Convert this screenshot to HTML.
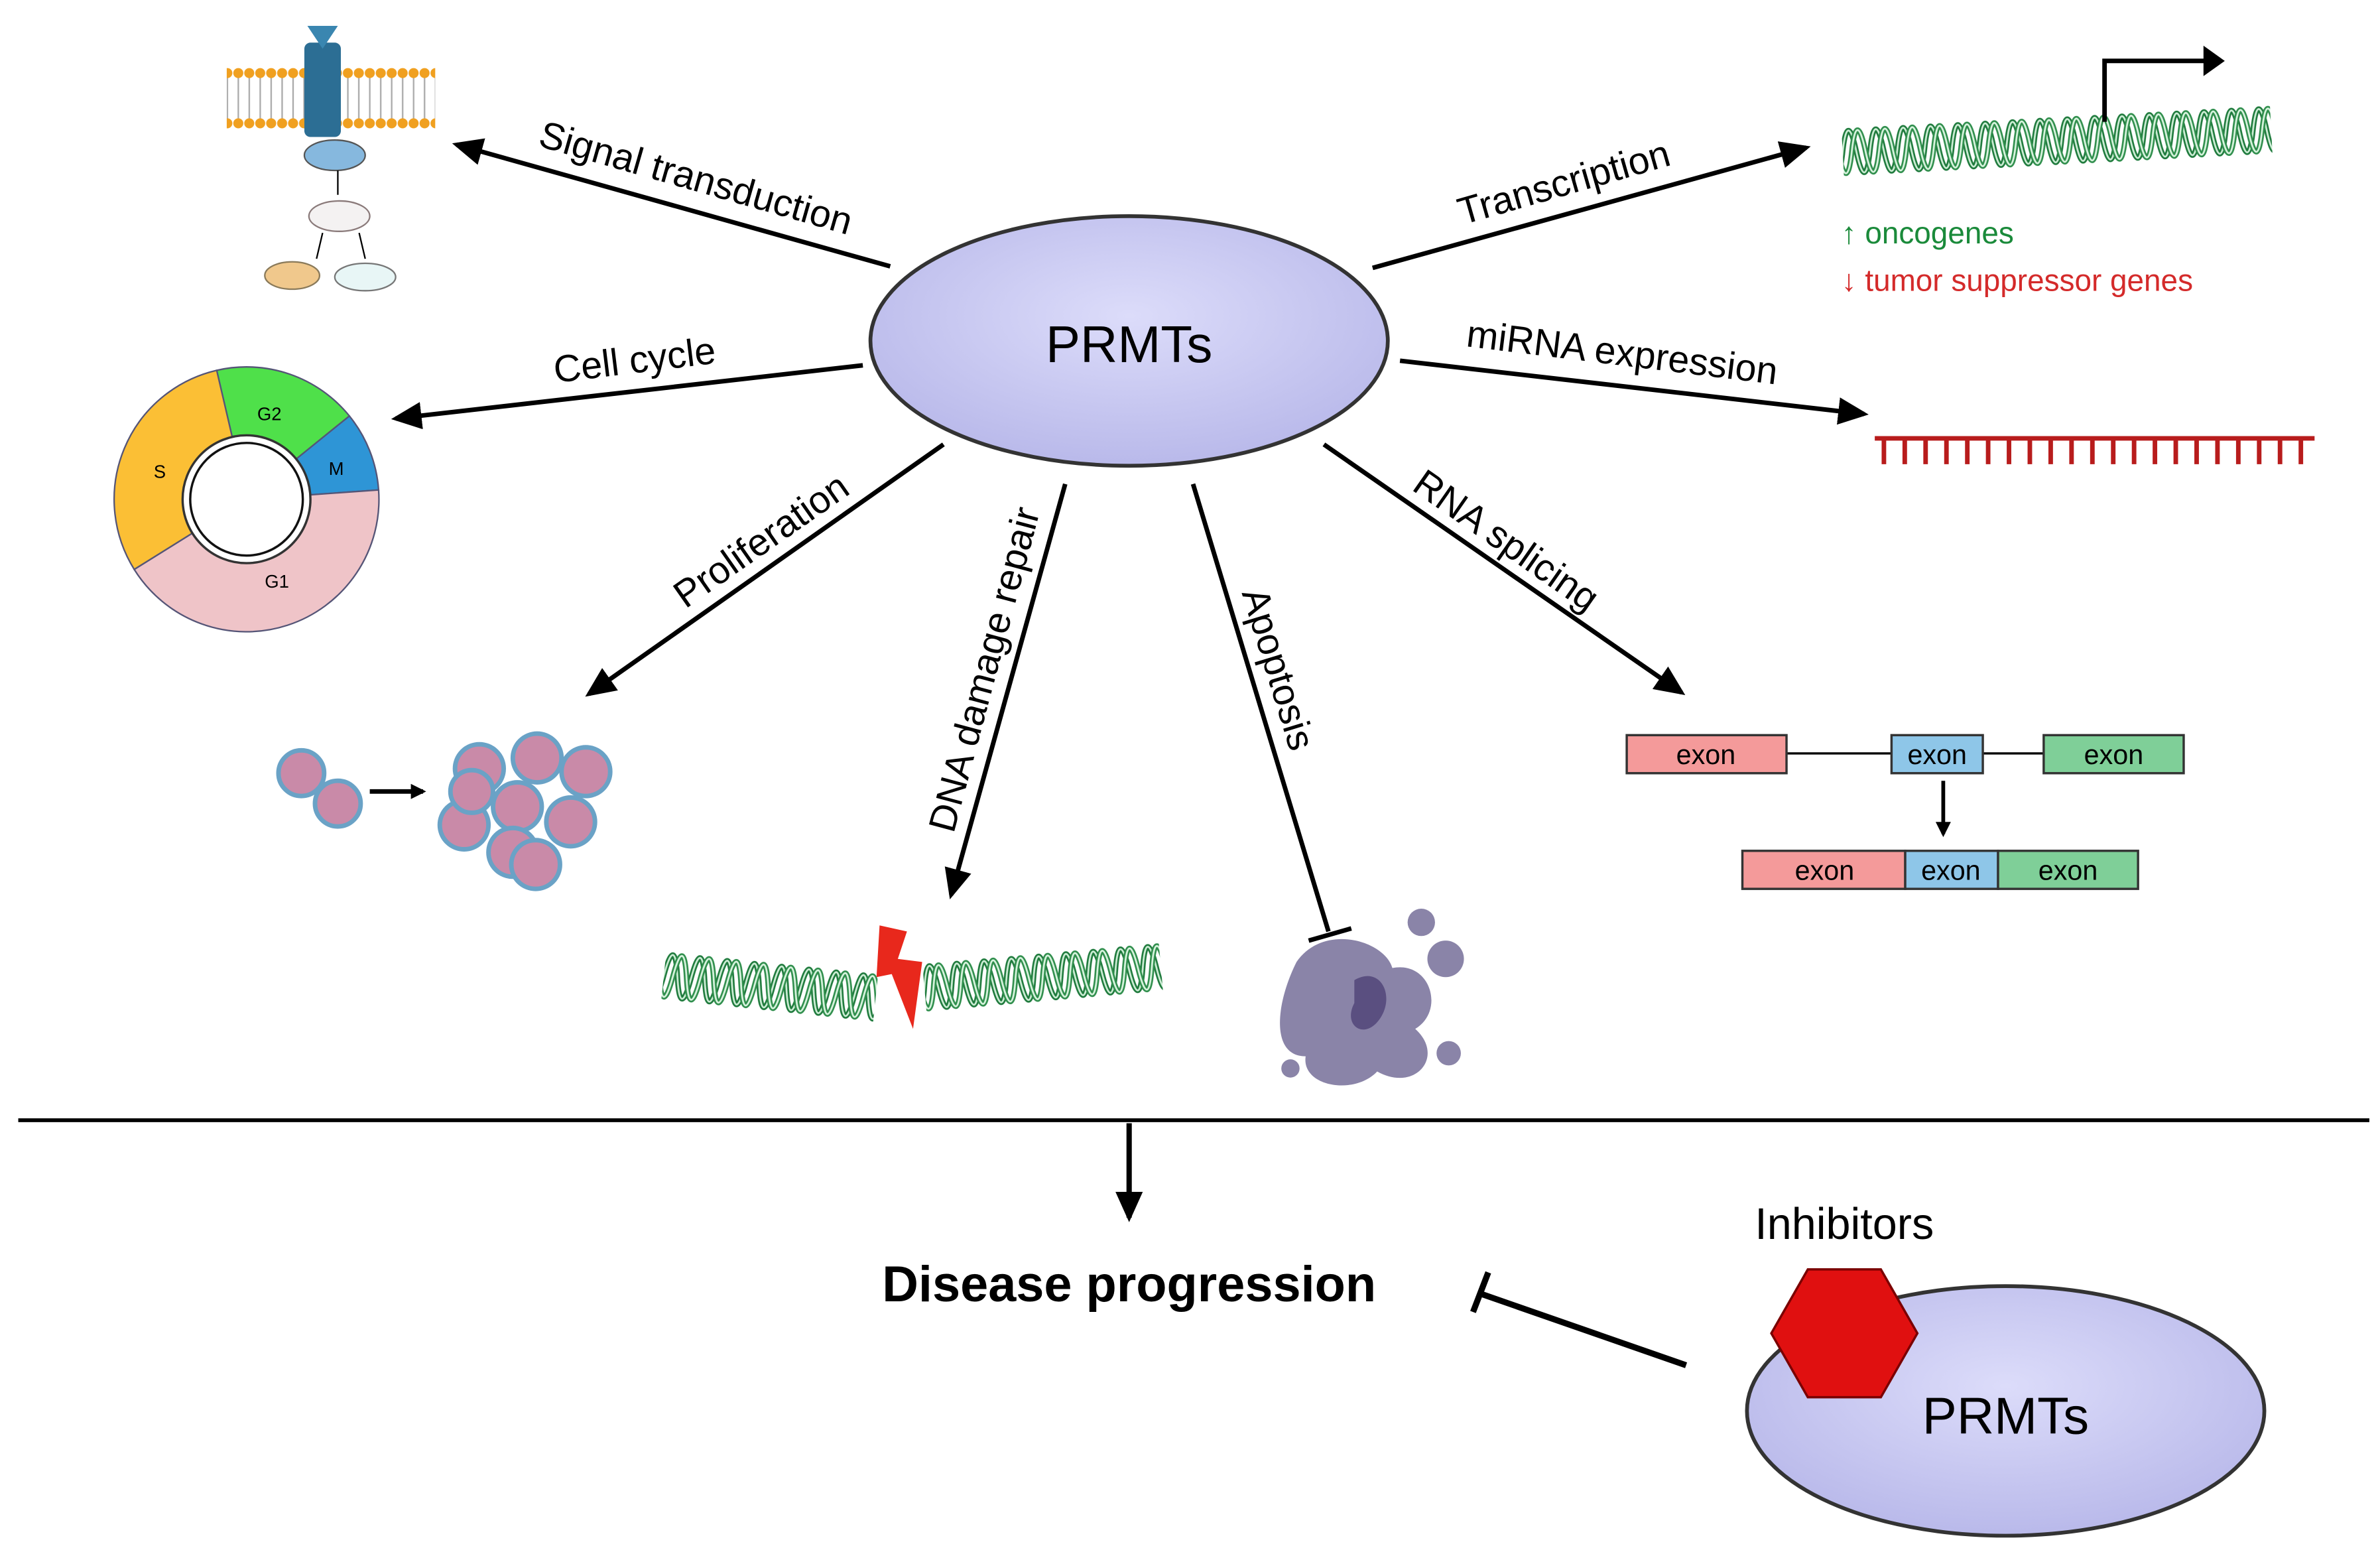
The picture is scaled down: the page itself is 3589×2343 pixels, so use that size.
<!DOCTYPE html>
<html><head><meta charset="utf-8"><style>
html,body{margin:0;padding:0;background:#fff;}
svg{display:block;}
text{font-family:"Liberation Sans","DejaVu Sans",sans-serif;}
</style></head><body>
<svg width="3589" height="2343" viewBox="0 0 1564 1021" xmlns="http://www.w3.org/2000/svg">
<defs>
<radialGradient id="eg" cx="50%" cy="40%" r="60%">
<stop offset="0" stop-color="#dcdcfa"/><stop offset="1" stop-color="#b9b9ea"/></radialGradient>
<marker id="ah" markerWidth="10" markerHeight="10" refX="8" refY="5" orient="auto" markerUnits="userSpaceOnUse" viewBox="0 0 10 10"><path d="M0,0 L10,5 L0,10 z" fill="#000"/></marker>
<marker id="ahb" markerWidth="20" markerHeight="20" refX="17" refY="10" orient="auto" markerUnits="userSpaceOnUse" viewBox="0 0 20 20"><path d="M0,1 L20,10 L0,19 z" fill="#000"/></marker>
<pattern id="hx" patternUnits="userSpaceOnUse" x="0" y="0" width="18" height="34">
<g fill="none">
<path d="M-18,17 Q-13.5,-11 -9,17 T0,17 T9,17 T18,17 T27,17" stroke="#1e7a3c" stroke-width="3.5"/>
<path d="M-18,17 Q-13.5,-11 -9,17 T0,17 T9,17 T18,17 T27,17" stroke="#cdeed5" stroke-width="1.2"/>
<path d="M-12,17 Q-7.5,-11 -3,17 T6,17 T15,17 T24,17 T33,17" stroke="#2f8e4c" stroke-width="3.5"/>
<path d="M-12,17 Q-7.5,-11 -3,17 T6,17 T15,17 T24,17 T33,17" stroke="#d8f4de" stroke-width="1.2"/>
</g></pattern>
<pattern id="mb" patternUnits="userSpaceOnUse" x="153" y="0" width="7.2" height="100">
<line x1="3.6" y1="50" x2="3.6" y2="78" stroke="#aaa" stroke-width="1"/>
<circle cx="3.6" cy="48" r="3.3" fill="#f0a020"/><circle cx="3.6" cy="81" r="3.3" fill="#f0a020"/>
</pattern>
</defs>

<ellipse cx="742" cy="224" rx="170" ry="82" fill="url(#eg)" stroke="#333" stroke-width="2.5"/>
<text x="742" y="238" font-size="34" text-anchor="middle">PRMTs</text>

<g fill="#8a84a8">
<path d="M852,632 C870,606 910,618 915,636 C940,631 950,664 930,676 C950,694 930,718 905,704 C890,720 855,714 858,694 C835,694 838,660 852,632 z"/>
<circle cx="934" cy="606" r="9"/><circle cx="950" cy="630" r="12"/><circle cx="952" cy="692" r="8"/><circle cx="848" cy="702" r="6"/>
<path d="M890,644 C907,634 917,654 907,669 C897,684 882,674 890,659 z" fill="#5a4f80"/>
</g>

<g stroke="#000" stroke-width="3" fill="none">
<line x1="585" y1="175" x2="300" y2="95" marker-end="url(#ahb)"/>
<line x1="902" y1="176" x2="1187" y2="97" marker-end="url(#ahb)"/>
<line x1="567" y1="240" x2="260" y2="275" marker-end="url(#ahb)"/>
<line x1="920" y1="237" x2="1225" y2="272" marker-end="url(#ahb)"/>
<line x1="620" y1="292" x2="387" y2="456" marker-end="url(#ahb)"/>
<line x1="700" y1="318" x2="625" y2="588" marker-end="url(#ahb)"/>
<line x1="784" y1="318" x2="873" y2="612"/>
<line x1="860" y1="618" x2="888" y2="610"/>
<line x1="870" y1="292" x2="1105" y2="455" marker-end="url(#ahb)"/>
</g>
<g font-size="25">
<text transform="translate(455,125) rotate(16)" text-anchor="middle">Signal transduction</text>
<text transform="translate(1030,128) rotate(-16)" text-anchor="middle">Transcription</text>
<text transform="translate(418,245) rotate(-7)" text-anchor="middle">Cell cycle</text>
<text transform="translate(1065,240) rotate(7)" text-anchor="middle">miRNA expression</text>
<text transform="translate(505,362) rotate(-35)" text-anchor="middle">Proliferation</text>
<text transform="translate(655,442) rotate(-75)" text-anchor="middle">DNA damage repair</text>
<text transform="translate(832,442) rotate(73)" text-anchor="middle">Apoptosis</text>
<text transform="translate(985,362) rotate(35)" text-anchor="middle">RNA splicing</text>
</g>

<rect x="0" y="0" width="282" height="34" fill="url(#hx)" transform="translate(1210,83) rotate(-3)"/>
<path d="M1383,80 V40 H1450" stroke="#000" stroke-width="3" fill="none"/>
<path d="M1448,30 L1462,40 L1448,50 z" fill="#000"/>
<text x="1210" y="160" font-size="20" fill="#1a8a3a">↑ oncogenes</text>
<text x="1210" y="191" font-size="20" fill="#d42a2a">↓ tumor suppressor genes</text>

<g stroke="#b81c1c" stroke-width="3"><line x1="1232" y1="288" x2="1521" y2="288"/>
<line x1="1238" y1="288" x2="1238" y2="305"/><line x1="1251.7" y1="288" x2="1251.7" y2="305"/><line x1="1265.4" y1="288" x2="1265.4" y2="305"/><line x1="1279.1" y1="288" x2="1279.1" y2="305"/><line x1="1292.8" y1="288" x2="1292.8" y2="305"/><line x1="1306.5" y1="288" x2="1306.5" y2="305"/><line x1="1320.2" y1="288" x2="1320.2" y2="305"/><line x1="1333.9" y1="288" x2="1333.9" y2="305"/><line x1="1347.6" y1="288" x2="1347.6" y2="305"/><line x1="1361.3" y1="288" x2="1361.3" y2="305"/><line x1="1375" y1="288" x2="1375" y2="305"/><line x1="1388.7" y1="288" x2="1388.7" y2="305"/><line x1="1402.4" y1="288" x2="1402.4" y2="305"/><line x1="1416.1" y1="288" x2="1416.1" y2="305"/><line x1="1429.8" y1="288" x2="1429.8" y2="305"/><line x1="1443.5" y1="288" x2="1443.5" y2="305"/><line x1="1457.2" y1="288" x2="1457.2" y2="305"/><line x1="1470.9" y1="288" x2="1470.9" y2="305"/><line x1="1484.6" y1="288" x2="1484.6" y2="305"/><line x1="1498.3" y1="288" x2="1498.3" y2="305"/><line x1="1512" y1="288" x2="1512" y2="305"/>
</g>

<g font-size="18" text-anchor="middle" stroke-width="1.5">
<line x1="1174" y1="495" x2="1243" y2="495" stroke="#000"/>
<line x1="1303" y1="495" x2="1343" y2="495" stroke="#000"/>
<rect x="1069" y="483" width="105" height="25" fill="#f49a9a" stroke="#333"/><text x="1121" y="502">exon</text>
<rect x="1243" y="483" width="60" height="25" fill="#8ec6e8" stroke="#333"/><text x="1273" y="502">exon</text>
<rect x="1343" y="483" width="92" height="25" fill="#7fcf98" stroke="#333"/><text x="1389" y="502">exon</text>
<rect x="1145" y="559" width="107" height="25" fill="#f49a9a" stroke="#333"/><text x="1199" y="578">exon</text>
<rect x="1252" y="559" width="61" height="25" fill="#8ec6e8" stroke="#333"/><text x="1282" y="578">exon</text>
<rect x="1313" y="559" width="92" height="25" fill="#7fcf98" stroke="#333"/><text x="1359" y="578">exon</text>
</g>
<line x1="1277" y1="513" x2="1277" y2="548" stroke="#000" stroke-width="2.5" marker-end="url(#ah)"/>

<g stroke="#557" stroke-width="1">
<path d="M142.4,243.3 A87,87 0 0 1 229.6,273.3 L194.6,301.6 A42,42 0 0 0 152.6,287.1 z" fill="#4fe04a"/>
<path d="M229.6,273.3 A87,87 0 0 1 248.8,321.9 L203.9,325.1 A42,42 0 0 0 194.6,301.6 z" fill="#2e95d6"/>
<path d="M248.8,321.9 A87,87 0 0 1 88.2,374.1 L126.4,350.3 A42,42 0 0 0 203.9,325.1 z" fill="#efc4c8"/>
<path d="M88.2,374.1 A87,87 0 0 1 142.4,243.3 L152.6,287.1 A42,42 0 0 0 126.4,350.3 z" fill="#fbbf35"/>
</g>
<circle cx="162" cy="328" r="42" fill="#fff" stroke="#333" stroke-width="1.5"/>
<circle cx="162" cy="328" r="37" fill="none" stroke="#111" stroke-width="1.5"/>
<g font-size="12" text-anchor="middle"><text x="177" y="276">G2</text><text x="221" y="312">M</text><text x="105" y="314">S</text><text x="182" y="386">G1</text></g>

<rect x="149" y="40" width="137" height="48" fill="url(#mb)"/>
<rect x="200" y="28" width="24" height="62" rx="4" fill="#2c6e94"/>
<path d="M202,17 L222,17 L212,32 z" fill="#3a86b0"/>
<ellipse cx="220" cy="102" rx="20" ry="10" fill="#86b8de" stroke="#555"/>
<line x1="222" y1="112" x2="222" y2="128" stroke="#000" stroke-width="1"/>
<ellipse cx="223" cy="142" rx="20" ry="10" fill="#f4f2f2" stroke="#8a7a7a"/>
<line x1="212" y1="153" x2="208" y2="170" stroke="#000"/><line x1="236" y1="153" x2="240" y2="170" stroke="#000"/>
<ellipse cx="192" cy="181" rx="18" ry="9" fill="#f0c88c" stroke="#8a7a5a"/>
<ellipse cx="240" cy="182" rx="20" ry="9" fill="#e8f6f6" stroke="#777"/>

<g fill="#c98aa8" stroke="#6aa2c6" stroke-width="3">
<circle cx="198" cy="508" r="15"/><circle cx="222" cy="528" r="15"/>
<circle cx="315" cy="505" r="16"/><circle cx="353" cy="498" r="16"/><circle cx="385" cy="507" r="16"/>
<circle cx="340" cy="530" r="16"/><circle cx="305" cy="542" r="16"/><circle cx="375" cy="540" r="16"/>
<circle cx="337" cy="560" r="16"/><circle cx="352" cy="568" r="16"/><circle cx="310" cy="520" r="14"/>
</g>
<line x1="243" y1="520" x2="278" y2="520" stroke="#000" stroke-width="3" marker-end="url(#ah)"/>

<rect x="0" y="0" width="140" height="34" fill="url(#hx)" transform="translate(438,624) rotate(6)"/>
<rect x="0" y="0" width="156" height="34" fill="url(#hx)" transform="translate(606,632) rotate(-5)"/>
<path d="M578,608 L596,612 L590,630 L606,632 L600,676 L586,640 L576,642 z" fill="#e8281c"/>

<line x1="12" y1="736" x2="1557" y2="736" stroke="#000" stroke-width="2.5"/>
<line x1="742" y1="738" x2="742" y2="800" stroke="#000" stroke-width="3.5" marker-end="url(#ahb)"/>
<text x="742" y="855" font-size="33" font-weight="bold" text-anchor="middle">Disease progression</text>
<line x1="1108" y1="897" x2="973" y2="850" stroke="#000" stroke-width="4"/>
<line x1="968" y1="862" x2="978" y2="836" stroke="#000" stroke-width="4"/>

<ellipse cx="1318" cy="927" rx="170" ry="82" fill="url(#eg)" stroke="#333" stroke-width="2.5"/>
<text x="1318" y="942" font-size="34" text-anchor="middle">PRMTs</text>
<polygon points="1188,834 1236,834 1260,876 1236,918 1188,918 1164,876" fill="#e01010" stroke="#7a0000" stroke-width="1.5"/>
<text x="1212" y="814" font-size="29" text-anchor="middle">Inhibitors</text>
</svg>
</body></html>
